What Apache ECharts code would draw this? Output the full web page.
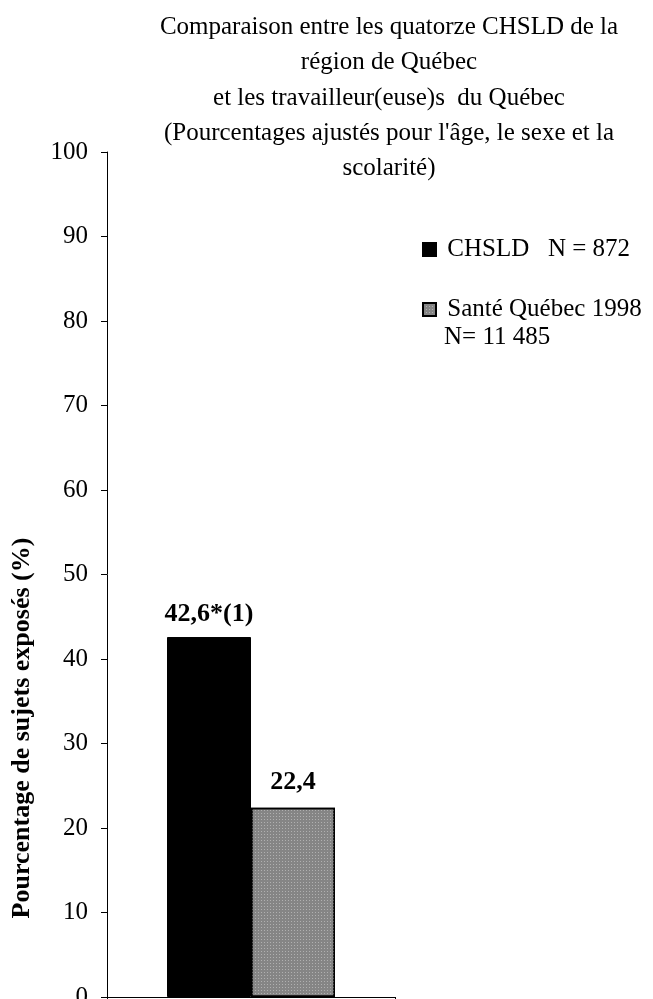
<!DOCTYPE html>
<html>
<head>
<meta charset="utf-8">
<script src="https://cdn.jsdelivr.net/npm/echarts@6/dist/echarts.min.js"></script>
<style>
html,body{margin:0;padding:0;background:#fff;}
#chart{width:653px;height:999px;}
</style>
</head>
<body>
<div id="chart"></div>
<script>
var categories = [''];
var seriesNames = ['CHSLD', 'Santé Québec 1998'];
var chsldValues = [42.6];
var santeValues = [22.4];
var valueLabels = ['42,6*(1)', '22,4'];
var yTicks = [0, 10, 20, 30, 40, 50, 60, 70, 80, 90, 100];

var FONT = '"Liberation Serif", "Times New Roman", serif';
var chart = echarts.init(document.getElementById('chart'), null, {renderer: 'canvas'});

chart.setOption({
  animation: false,
  backgroundColor: '#fff',
  title: {
    text: 'Comparaison entre les quatorze CHSLD de la\nrégion de Québec\net les travailleur(euse)s  du Québec\n(Pourcentages ajustés pour l\'âge, le sexe et la\nscolarité)',
    left: 389,
    top: 10,
    padding: 0,
    textAlign: 'center',
    textStyle: {fontFamily: FONT, fontSize: 25, fontWeight: 'normal', color: '#000', lineHeight: 35.2}
  },
  legend: [{
    data: [seriesNames[0]],
    left: 417,
    top: 232,
    icon: 'rect',
    itemWidth: 13,
    itemHeight: 13,
    formatter: function () { return ' CHSLD   N = 872'; },
    textStyle: {fontFamily: FONT, fontSize: 25, color: '#000'}
  }, {
    data: [seriesNames[1]],
    left: 417,
    top: 292,
    icon: 'rect',
    itemWidth: 13,
    itemHeight: 13,
    formatter: function (n) { return ' ' + n; },
    textStyle: {fontFamily: FONT, fontSize: 25, color: '#000'}
  }],
  graphic: [{
    type: 'text',
    left: 444,
    top: 325,
    style: {text: 'N= 11 485', font: '25px ' + FONT, fill: '#000'}
  }, {
    type: 'text',
    x: 22,
    y: 728,
    rotation: Math.PI / 2,
    style: {text: 'Pourcentage de sujets exposés (%)', font: 'bold 26px ' + FONT, fill: '#000', align: 'center', verticalAlign: 'middle'}
  }],
  grid: {left: 107, right: 258, top: 152, bottom: 2, containLabel: false, outerBoundsMode: 'none'},
  xAxis: {
    type: 'category',
    data: categories,
    axisLine: {lineStyle: {color: '#000', width: 1}},
    axisTick: {show: true, length: 4, lineStyle: {color: '#000'}},
    axisLabel: {show: false}
  },
  yAxis: {
    type: 'value',
    min: yTicks[0],
    max: yTicks[yTicks.length - 1],
    interval: 10,
    axisLine: {show: true, lineStyle: {color: '#000', width: 1}},
    axisTick: {show: true, length: 6, lineStyle: {color: '#000'}},
    splitLine: {show: false},
    axisLabel: {margin: 19, fontFamily: FONT, fontSize: 25, color: '#000'}
  },
  series: [{
    name: seriesNames[0],
    type: 'bar',
    data: chsldValues,
    barWidth: 84,
    barGap: '0%',
    itemStyle: {color: '#000', borderColor: '#000', borderWidth: 1},
    label: {show: true, position: 'top', distance: 10, formatter: function () { return valueLabels[0]; },
      fontFamily: FONT, fontSize: 26, fontWeight: 'bold', color: '#000'}
  }, {
    name: seriesNames[1],
    type: 'bar',
    data: santeValues,
    barWidth: 84,
    barGap: '0%',
    itemStyle: {
      color: '#858585', borderColor: '#000', borderWidth: 1.5,
      decal: {symbol: 'rect', symbolSize: 1, dashArrayX: [1, 2], dashArrayY: [1, 2], color: '#b0b0b0'}
    },
    label: {show: true, position: 'top', distance: 12, formatter: function () { return valueLabels[1]; },
      fontFamily: FONT, fontSize: 26, fontWeight: 'bold', color: '#000'}
  }]
});
</script>
</body>
</html>
